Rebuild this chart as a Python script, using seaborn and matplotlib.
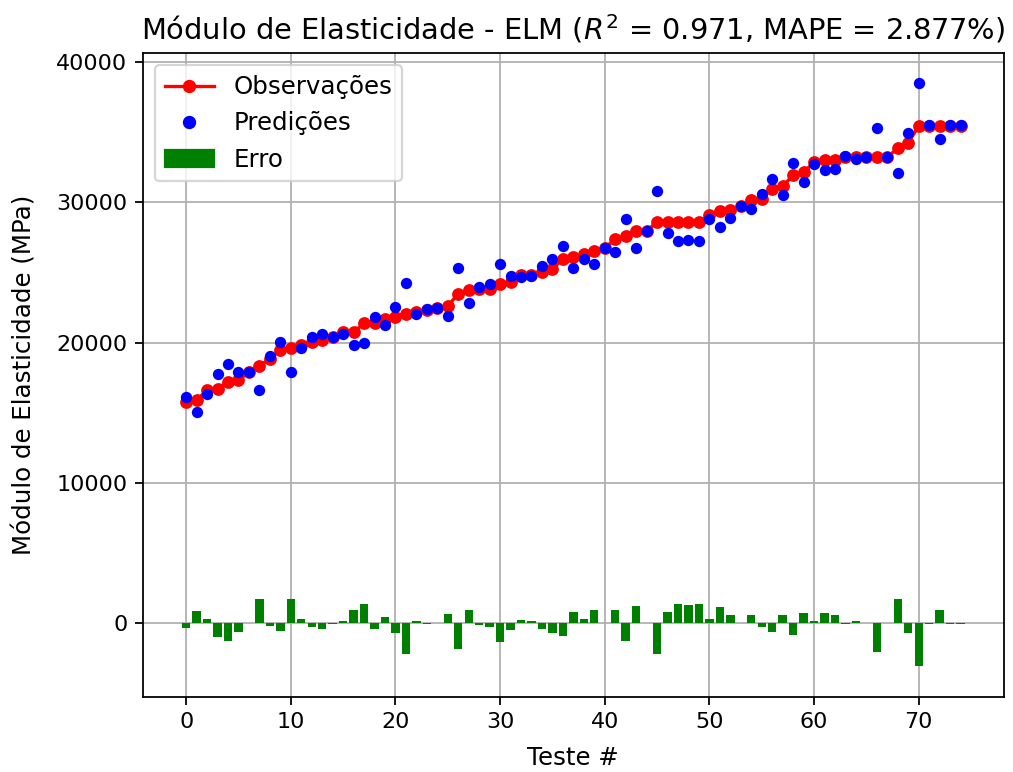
import numpy as np
import matplotlib
matplotlib.use('Agg')
import matplotlib.pyplot as plt
import seaborn as sns
from matplotlib.patches import Patch
from matplotlib.lines import Line2D

# Observed and predicted modulus (MPa) per test
teste = list(range(75))
observacoes = [15780, 15900, 16610, 16730, 17210, 17330, 17900, 18320, 18870, 19470,
               19630, 19870, 20060, 20180, 20370, 20770, 20770, 21370, 21410, 21720,
               21840, 22080, 22200, 22320, 22450, 22600, 23500, 23740, 23860, 23860,
               24220, 24300, 24860, 24860, 25050, 25220, 26000, 26120, 26310, 26550,
               26780, 27360, 27590, 27970, 27970, 28610, 28610, 28610, 28610, 28610,
               29090, 29400, 29450, 29760, 30160, 30280, 30990, 31160, 31940, 32180,
               32850, 33010, 33010, 33250, 33250, 33250, 33250, 33250, 33850, 34250,
               35460, 35460, 35460, 35460, 35460]
predicoes = [16140, 15070, 16310, 17750, 18450, 17930, 17900, 16620, 19050, 20020,
             17900, 19590, 20370, 20610, 20400, 20620, 19820, 20000, 21850, 21260,
             22550, 24250, 22040, 22370, 22450, 21930, 25350, 22820, 23990, 24150,
             25600, 24780, 24650, 24720, 25480, 25960, 26900, 25360, 26000, 25600,
             26750, 26460, 28850, 26720, 27950, 30800, 27840, 27240, 27300, 27240,
             28800, 28260, 28860, 29760, 29550, 30580, 31650, 30550, 32820, 31450,
             32720, 32280, 32400, 33300, 33130, 33250, 35300, 33250, 32100, 34950,
             38550, 35510, 34500, 35510, 35510]

erro = np.array(observacoes) - np.array(predicoes)

fig, ax = plt.subplots(figsize=(1013/160, 772/160), dpi=160)
fig.subplots_adjust(left=0.141, right=0.991, bottom=0.0975, top=0.931)

ax.bar(teste, erro, width=0.8, color='green', zorder=2)
sns.lineplot(x=teste, y=observacoes, ax=ax, color='red', marker='o', markersize=5,
             markeredgecolor='red', linewidth=1.5, zorder=3)
sns.scatterplot(x=teste, y=predicoes, ax=ax, color='blue', s=26, linewidth=0, zorder=4)

ax.set_ylim(-5250, 40640)
ax.grid(True, color='#b0b0b0', linewidth=0.8)
ax.set_axisbelow(True)

handles = [Line2D([0], [0], color='red', marker='o', markersize=5),
           Line2D([0], [0], color='blue', marker='o', markersize=5, linestyle='None'),
           Patch(color='green')]
ax.legend(handles, ['Observações', 'Predições', 'Erro'], loc='upper left', fontsize=11)

ax.set_title(r'Módulo de Elasticidade - ELM ($R^2$ = 0.971, MAPE = 2.877%)', fontsize=13)
ax.set_xlabel('Teste #', fontsize=11, labelpad=6)
ax.set_ylabel('Módulo de Elasticidade (MPa)', fontsize=11, labelpad=9)

plt.savefig('out.png', dpi=160)
